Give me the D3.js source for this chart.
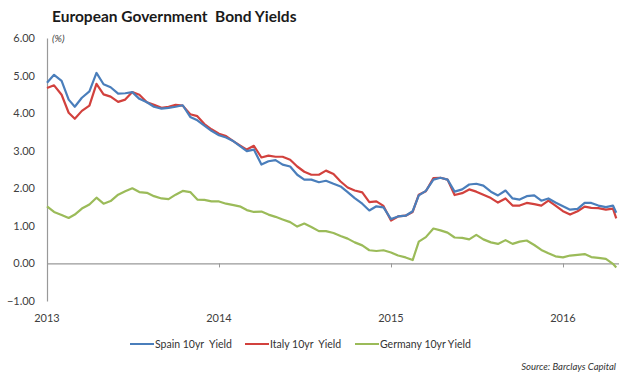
<!DOCTYPE html>
<html>
<head>
<meta charset="utf-8">
<script src="https://cdn.jsdelivr.net/npm/d3@7"></script>
<style>
  body { margin: 0; background: #fff; }
  svg { display: block; font-family: Lato, "Open Sans", sans-serif; }
  text { white-space: pre; }
</style>
</head>
<body>
<div id="chart"></div>
<script>
// semi-monthly readings, Jan 2013 - Apr 2016
var dates = [
  "2013-01-01","2013-01-16","2013-02-01","2013-02-16","2013-03-01","2013-03-16","2013-04-01","2013-04-16",
  "2013-05-01","2013-05-16","2013-06-01","2013-06-16","2013-07-01","2013-07-16","2013-08-01","2013-08-16",
  "2013-09-01","2013-09-16","2013-10-01","2013-10-16","2013-11-01","2013-11-16","2013-12-01","2013-12-16",
  "2014-01-01","2014-01-16","2014-02-01","2014-02-16","2014-03-01","2014-03-16","2014-04-01","2014-04-16",
  "2014-05-01","2014-05-16","2014-06-01","2014-06-16","2014-07-01","2014-07-16","2014-08-01","2014-08-16",
  "2014-09-01","2014-09-16","2014-10-01","2014-10-16","2014-11-01","2014-11-16","2014-12-01","2014-12-16",
  "2015-01-01","2015-01-16","2015-02-01","2015-02-16","2015-03-01","2015-03-16","2015-04-01","2015-04-16",
  "2015-05-01","2015-05-16","2015-06-01","2015-06-16","2015-07-01","2015-07-16","2015-08-01","2015-08-16",
  "2015-09-01","2015-09-16","2015-10-01","2015-10-16","2015-11-01","2015-11-16","2015-12-01","2015-12-16",
  "2016-01-01","2016-01-16","2016-02-01","2016-02-16","2016-03-01","2016-03-16","2016-04-01","2016-04-16",
  "2016-04-23"
]

var spain = [
  4.81,5.02,4.86,4.36,4.17,4.41,4.58,5.07, 4.77,4.69,4.52,4.53,4.56,4.38,4.29,4.17,
  4.12,4.14,4.17,4.21,3.90,3.81,3.67,3.53, 3.41,3.35,3.25,3.11,2.99,3.03,2.63,2.72,
  2.75,2.63,2.58,2.36,2.23,2.23,2.16,2.20, 2.12,2.05,1.90,1.74,1.59,1.41,1.52,1.49,
  1.18,1.25,1.27,1.39,1.81,1.93,2.23,2.28, 2.23,1.91,1.97,2.10,2.12,2.07,1.91,1.81,
  1.94,1.73,1.70,1.79,1.81,1.67,1.73,1.62, 1.52,1.43,1.45,1.61,1.61,1.54,1.50,1.54,
  1.35
]
var italy = [
  4.67,4.74,4.49,4.01,3.85,4.06,4.20,4.78, 4.50,4.44,4.30,4.36,4.56,4.49,4.29,4.22,
  4.14,4.17,4.22,4.20,3.97,3.92,3.71,3.57, 3.45,3.39,3.25,3.13,3.03,3.13,2.82,2.87,
  2.84,2.84,2.76,2.58,2.44,2.36,2.36,2.47, 2.38,2.18,2.02,1.94,1.89,1.63,1.65,1.53,
  1.14,1.25,1.27,1.37,1.83,1.92,2.27,2.28, 2.23,1.82,1.87,1.97,1.91,1.83,1.74,1.62,
  1.73,1.54,1.54,1.61,1.58,1.54,1.67,1.54, 1.39,1.30,1.39,1.51,1.48,1.47,1.43,1.46,
  1.20
]
var germany = [
  1.52,1.37,1.29,1.21,1.30,1.46,1.57,1.75, 1.59,1.66,1.83,1.92,2.00,1.90,1.88,1.79,
  1.73,1.71,1.83,1.93,1.90,1.70,1.69,1.65, 1.65,1.59,1.55,1.51,1.42,1.37,1.38,1.30,
  1.24,1.17,1.10,0.98,1.06,0.97,0.86,0.86, 0.81,0.73,0.66,0.56,0.48,0.35,0.33,0.35,
  0.29,0.21,0.16,0.09,0.58,0.70,0.93,0.88, 0.82,0.69,0.68,0.64,0.76,0.64,0.56,0.52,
  0.62,0.52,0.58,0.61,0.49,0.36,0.27,0.19, 0.16,0.21,0.23,0.25,0.17,0.15,0.12,-0.01,
  -0.11
]

var seriesNames = ["Spain 10yr  Yield", "Italy 10yr  Yield", "Germany 10yr Yield"]
var seriesColors = ["#4a7ebb", "#d2413d", "#9bbb59"]
var yTicks = [-1, 0, 1, 2, 3, 4, 5, 6]
var yearTicks = ["2013", "2014", "2015", "2016"]

var width = 619, height = 374

var parse = d3.timeParse("%Y-%m-%d")
var x = d3.scaleTime()
  .domain([parse("2013-01-01"), parse("2016-01-01")])
  .range([47, 563])
var y = d3.scaleLinear().domain([-1, 6]).range([301, 38])

var svg = d3.select('#chart').append('svg').attr('width', width).attr('height', height)

// title
svg.append('text').attr('x', 52).attr('y', 22)
  .style('font-weight', 'bold').style('font-size', '15.5px').style('fill', '#1a1a1a')
  .text('European Government  Bond Yields')
svg.append('text').attr('x', 52).attr('y', 42)
  .style('font-style', 'italic').style('font-size', '10px').style('fill', '#404040')
  .text('(%)')

// y axis
var yAxis = svg.append('g').attr('transform', 'translate(47,0)')
  .call(d3.axisLeft(y).tickValues(yTicks).tickFormat(d3.format('.2f')).tickSize(0).tickPadding(12))
yAxis.select('.domain').attr('stroke', '#999').attr('stroke-width', 1.2)
yAxis.selectAll('text').style('font-size', '11px').style('fill', '#404040').style('font-family', 'Lato, sans-serif')

// x axis on zero line
var xAxis = svg.append('g').attr('transform', 'translate(0,' + y(0) + ')')
  .call(d3.axisBottom(x)
    .tickValues(yearTicks.map(function(d){ return parse(d + '-01-01') }))
    .tickFormat('').tickSize(4).tickSizeOuter(0))
xAxis.select('.domain').attr('stroke', '#999').attr('stroke-width', 1.2)
  .attr('d', 'M47,0.5H619')
xAxis.selectAll('line').attr('stroke', '#999')

svg.append('g').selectAll('text')
  .data(yearTicks)
  .enter().append('text')
  .attr('x', function(d){ return x(parse(d + '-01-01')) })
  .attr('y', 322)
  .style('text-anchor', 'middle').style('font-size', '11px').style('fill', '#404040')
  .text(function(d){ return d })

// lines
var all = [spain, italy, germany]
var line = d3.line()
  .x(function(d, i){ return x(parse(dates[i])) })
  .y(function(d){ return y(d) })

var g = svg.append('g')
// germany first, then italy, spain on top
;[2, 1, 0].forEach(function(s){
  g.append('path')
    .datum(all[s])
    .attr('fill', 'none')
    .attr('stroke', seriesColors[s])
    .attr('stroke-width', 2.2)
    .attr('stroke-linejoin', 'round')
    .attr('d', line)
})

// legend
var legendX = [130, 245, 355]
var legend = svg.append('g').selectAll('g')
  .data(seriesNames)
  .enter().append('g')
  .attr('transform', function(d, i){ return 'translate(' + legendX[i] + ',344)' })
legend.append('line')
  .attr('x1', 0).attr('x2', 24).attr('y1', 0).attr('y2', 0)
  .attr('stroke', function(d, i){ return seriesColors[i] }).attr('stroke-width', 2)
legend.append('text')
  .attr('x', 25).attr('y', 4)
  .style('font-size', '10.5px').style('fill', '#333')
  .text(function(d){ return d })

// source
svg.append('text').attr('x', 616).attr('y', 370)
  .style('text-anchor', 'end')
  .style('font-style', 'italic').style('font-size', '9.5px').style('fill', '#333')
  .text('Source: Barclays Capital')
</script>
</body>
</html>
